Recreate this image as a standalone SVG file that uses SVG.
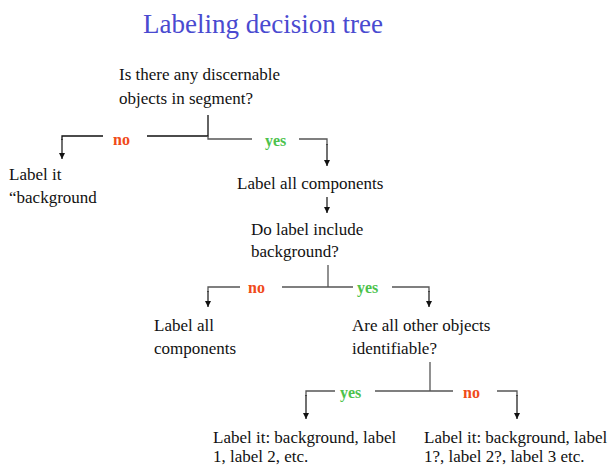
<svg xmlns="http://www.w3.org/2000/svg" width="613" height="466" viewBox="0 0 613 466">
<defs>
<marker id="ah" viewBox="0 0 10 10" refX="10" refY="5" markerWidth="6" markerHeight="6" orient="auto" markerUnits="userSpaceOnUse">
<path d="M0,0 L10,5 L0,10 z" fill="#111"/>
</marker>
<style>
.t{font-family:"Liberation Serif","Times New Roman",serif;font-size:17px;fill:#111}
.title{font-family:"Liberation Serif","Times New Roman",serif;font-size:27px;fill:#4a4ad0}
.no{font-family:"Liberation Serif","Times New Roman",serif;font-size:16px;font-weight:bold;fill:#f04a1a}
.yes{font-family:"Liberation Serif","Times New Roman",serif;font-size:16px;font-weight:bold;fill:#4cc24c}
.c{fill:none;stroke:#555;stroke-width:1.3}
.k{fill:none;stroke:#111;stroke-width:1.3}
.a{fill:none;stroke:#111;stroke-width:1.2;marker-end:url(#ah)}
</style>
</defs>
<rect width="613" height="466" fill="#fff"/>
<text class="title" x="143" y="33">Labeling decision tree</text>

<g id="connectors">
<path class="k" d="M208,115 V136 H147"/>
<path class="k" d="M103,136 H62 V140"/>
<line class="a" x1="62" y1="139" x2="62" y2="159"/>
<path class="c" d="M208,136 V139 H252"/>
<path class="c" d="M299,139 H327 V145"/>
<line class="a" x1="327" y1="144" x2="327" y2="166"/>
<line class="a" x1="327" y1="197" x2="327" y2="213"/>

<path class="c" d="M328,265 V287"/>
<path class="c" d="M240,287 H208 V292"/>
<line class="a" x1="208" y1="291" x2="208" y2="307"/>
<path class="c" d="M282,287 H353"/>
<path class="c" d="M392,287 H429 V292"/>
<line class="a" x1="429" y1="291" x2="429" y2="307"/>

<path class="c" d="M430,362 V391"/>
<path class="c" d="M335,391 H306 V396"/>
<line class="a" x1="306" y1="395" x2="306" y2="419"/>
<path class="c" d="M375,391 H453"/>
<path class="c" d="M497,391 H517 V396"/>
<line class="a" x1="517" y1="395" x2="517" y2="419"/>

<text class="no" x="113" y="145">no</text>
<text class="yes" x="265" y="146">yes</text>
<text class="no" x="248" y="293">no</text>
<text class="yes" x="357" y="293">yes</text>
<text class="yes" x="340" y="398">yes</text>
<text class="no" x="463" y="398">no</text>
</g>

<g id="q1">
<text class="t" x="119" y="80">Is there any discernable</text>
<text class="t" x="119" y="104">objects in segment?</text>
</g>
<g id="bg">
<text class="t" x="9" y="180">Label it</text>
<text class="t" x="9" y="203">“background</text>
</g>
<g id="labelall1">
<text class="t" x="237" y="189">Label all components</text>
</g>
<g id="q2">
<text class="t" x="251" y="235">Do label include</text>
<text class="t" x="251" y="257">background?</text>
</g>
<g id="labelall2">
<text class="t" x="154" y="331">Label all</text>
<text class="t" x="154" y="354">components</text>
</g>
<g id="q3">
<text class="t" x="352" y="331">Are all other objects</text>
<text class="t" x="352" y="354">identifiable?</text>
</g>
<g id="leafyes">
<text class="t" x="213" y="443">Label it: background, label</text>
<text class="t" x="213" y="462">1, label 2, etc.</text>
</g>
<g id="leafno">
<text class="t" x="424" y="443">Label it: background, label</text>
<text class="t" x="424" y="462">1?, label 2?, label 3 etc.</text>
</g>
</svg>
